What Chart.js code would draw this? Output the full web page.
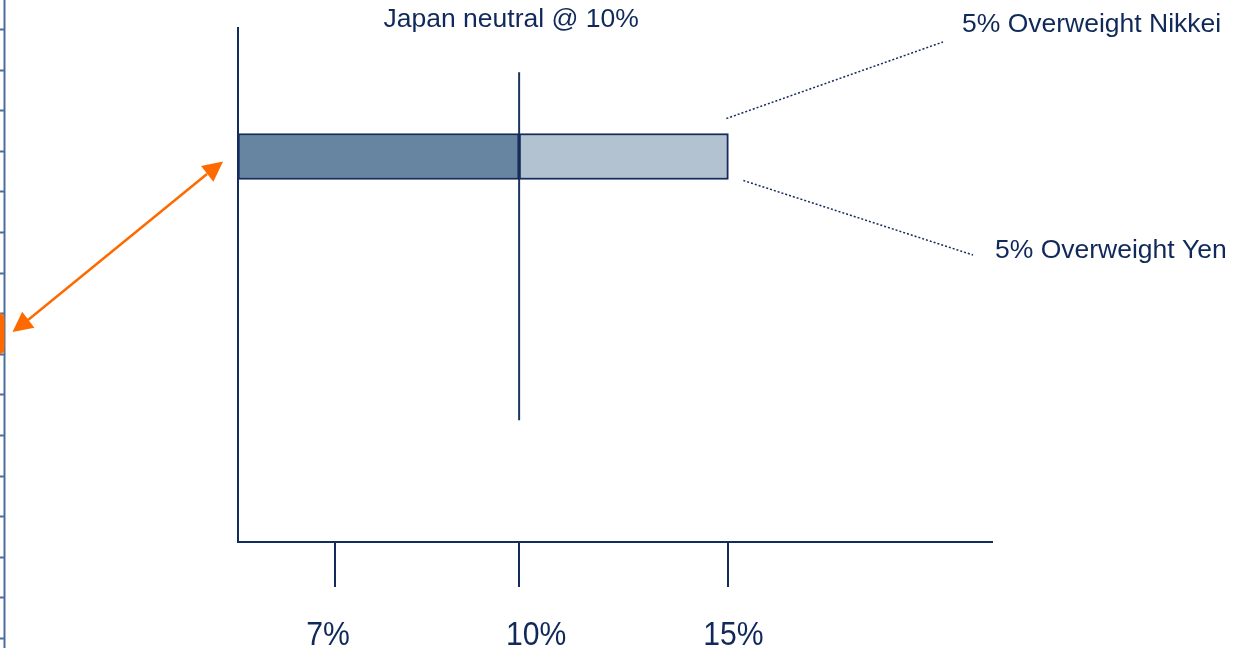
<!DOCTYPE html>
<html>
<head>
<meta charset="utf-8">
<script src="https://cdn.jsdelivr.net/npm/chart.js@4"></script>
<style>
    html, body { margin: 0; padding: 0; background: #fff; overflow: hidden; }
    #wrap { width: 1238px; height: 648px; position: relative; }
</style>
</head>
<body>
<div id="wrap"><canvas id="weightChart"></canvas></div>
<script>
// Chart data
const categories = ['Japan', ''];
const axisStart = 5.8;
const axisEnd = 25;
const tickValues = [7, 10, 15];
const neutralBar = [[axisStart, 10]];
const overweightBar = [[10, 15]];
const neutralLineX = [10, 10];
const neutralLineY = [23.7, 91.4];

const NAVY = '#132c5b';
const TEXT = '#10295a';
const ORANGE = '#ff6a00';
const labelFont = "'Liberation Sans', Arial, sans-serif";
// the percentage labels sit a little off their tick marks in the original
const tickLabelShift = [-7, 17, 5];

function arrowHead(ctx, fromX, fromY, toX, toY, len, width) {
    const ang = Math.atan2(toY - fromY, toX - fromX);
    const bx = toX - len * Math.cos(ang);
    const by = toY - len * Math.sin(ang);
    ctx.beginPath();
    ctx.moveTo(toX, toY);
    ctx.lineTo(bx + width / 2 * Math.sin(ang), by - width / 2 * Math.cos(ang));
    ctx.lineTo(bx - width / 2 * Math.sin(ang), by + width / 2 * Math.cos(ang));
    ctx.closePath();
    ctx.fill();
}

// Tick labels, slightly condensed like the original
const tickLabels = {
    id: 'tickLabels',
    afterDraw(chart) {
        const ctx = chart.ctx;
        const x = chart.scales.x;
        ctx.save();
        ctx.fillStyle = TEXT;
        ctx.font = '33.5px ' + labelFont;
        ctx.textAlign = 'center';
        ctx.textBaseline = 'alphabetic';
        x.ticks.forEach((t, i) => {
            ctx.save();
            ctx.translate(x.getPixelForValue(t.value) + (tickLabelShift[i] || 0), 645);
            ctx.scale(0.9, 1);
            ctx.fillText(t.value + '%', 0, 0);
            ctx.restore();
        });
        ctx.restore();
    }
};

// Annotations drawn on top of the chart
const annotations = {
    id: 'annotations',
    afterDraw(chart) {
        const ctx = chart.ctx;
        const x = chart.scales.x;
        const bar = chart.getDatasetMeta(1).data[0];
        const barTop = bar.y - bar.height / 2;
        const barBottom = bar.y + bar.height / 2;

        ctx.save();

        // Title over the neutral line
        ctx.fillStyle = TEXT;
        ctx.font = '26.5px ' + labelFont;
        ctx.textAlign = 'center';
        ctx.textBaseline = 'middle';
        ctx.fillText('Japan neutral @ 10%', x.getPixelForValue(10) - 8, 20);

        // Callout labels
        ctx.textAlign = 'left';
        ctx.fillText('5% Overweight Nikkei', 962, 25);
        ctx.fillText('5% Overweight Yen', 995, 251);

        // Dotted leader lines
        ctx.strokeStyle = NAVY;
        ctx.lineWidth = 1.5;
        ctx.setLineDash([2, 2]);
        ctx.beginPath();
        ctx.moveTo(bar.x - 2, barTop - 15);
        ctx.lineTo(943, 42);
        ctx.moveTo(bar.x + 15, barBottom + 1);
        ctx.lineTo(973, 255);
        ctx.stroke();
        ctx.setLineDash([]);

        // Orange double arrow
        ctx.strokeStyle = ORANGE;
        ctx.fillStyle = ORANGE;
        ctx.lineWidth = 2.5;
        ctx.beginPath();
        ctx.moveTo(28, 320);
        ctx.lineTo(207, 174);
        ctx.stroke();
        arrowHead(ctx, 207, 174, 223, 161.5, 20, 20);
        arrowHead(ctx, 28, 320, 12.5, 332, 20, 20);

        // Fragment of a neighbouring axis at the left edge
        ctx.strokeStyle = '#4d6d9c';
        ctx.lineWidth = 2;
        ctx.beginPath();
        ctx.moveTo(4.5, 0);
        ctx.lineTo(4.5, 648);
        for (let y = 29; y < 648; y += 40.6) {
            ctx.moveTo(0, Math.round(y) + 0.5);
            ctx.lineTo(4.5, Math.round(y) + 0.5);
        }
        ctx.stroke();
        ctx.fillStyle = ORANGE;
        ctx.beginPath();
        ctx.roundRect(-6, 313, 10.5, 41, 5);
        ctx.fill();

        ctx.restore();
    }
};

const ctx = document.getElementById('weightChart').getContext('2d');
const weightChart = new Chart(ctx, {
    type: 'bar',
    data: {
        labels: categories,
        datasets: [{
            label: 'Neutral',
            indexAxis: 'y',
            data: neutralBar,
            backgroundColor: '#6785a1',
            borderColor: NAVY,
            borderWidth: 2,
            borderSkipped: false,
            barThickness: 46,
            grouped: false,
            xAxisID: 'x',
            yAxisID: 'y'
        }, {
            label: 'Overweight',
            indexAxis: 'y',
            data: overweightBar,
            backgroundColor: '#b3c2d1',
            borderColor: NAVY,
            borderWidth: 2,
            borderSkipped: false,
            barThickness: 46,
            grouped: false,
            xAxisID: 'x',
            yAxisID: 'y'
        }, {
            type: 'line',
            label: 'Neutral line',
            data: neutralLineX.map((v, i) => ({ x: v, y: neutralLineY[i] })),
            borderColor: '#1c355f',
            borderWidth: 2,
            pointRadius: 0,
            fill: false,
            xAxisID: 'x',
            yAxisID: 'y2'
        }]
    },
    options: {
        responsive: true,
        maintainAspectRatio: false,
        animation: false,
        layout: {
            padding: { top: 28, left: 230, right: 246, bottom: 61 }
        },
        scales: {
            x: {
                type: 'logarithmic',
                min: axisStart,
                max: axisEnd,
                offset: false,
                afterBuildTicks: function(scale) {
                    scale.ticks = tickValues.map(v => ({ value: v }));
                },
                grid: {
                    display: true,
                    offset: false,
                    drawOnChartArea: false,
                    drawTicks: true,
                    tickLength: 45,
                    color: NAVY,
                    lineWidth: 2
                },
                border: { display: true, color: NAVY, width: 2 },
                ticks: { display: false }
            },
            y: {
                type: 'category',
                labels: categories,
                offset: true,
                position: 'left',
                grid: { display: false },
                border: { display: true, color: NAVY, width: 2 },
                ticks: { display: false }
            },
            y2: {
                type: 'linear',
                min: 0,
                max: 100,
                display: false
            }
        },
        plugins: {
            legend: { display: false },
            tooltip: { enabled: false }
        }
    },
    plugins: [tickLabels, annotations]
});
</script>
</body>
</html>
